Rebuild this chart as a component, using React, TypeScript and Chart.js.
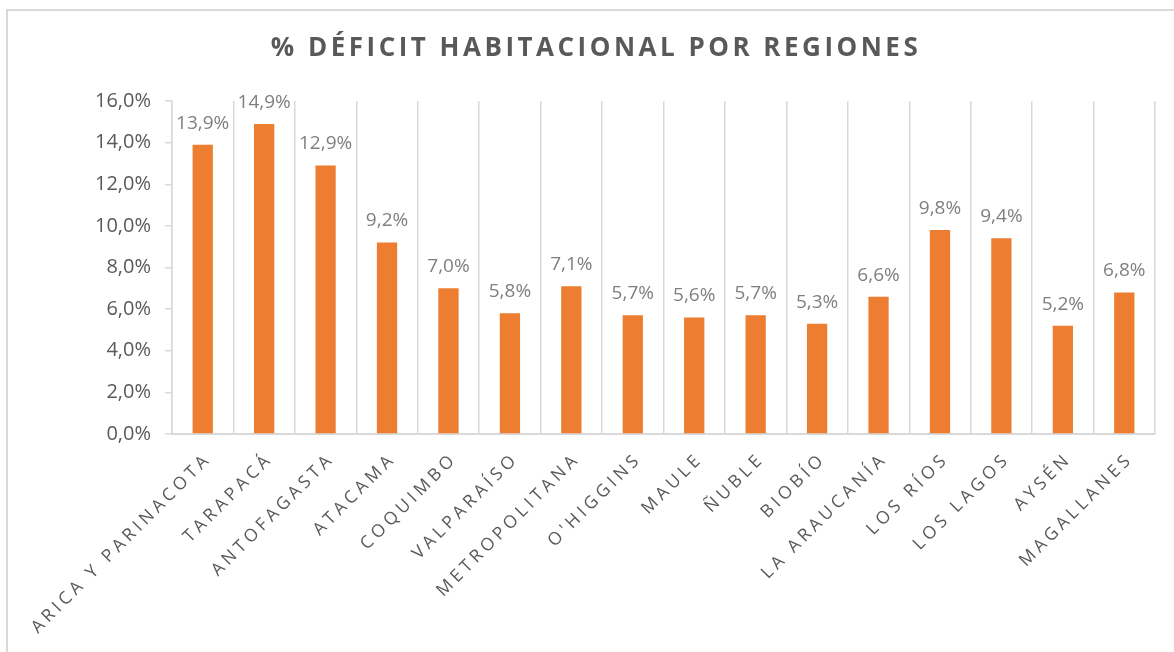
import React, { useEffect, useRef } from "react";
import { Chart, registerables } from "chart.js";

Chart.register(...registerables);

const TITLE = "% DÉFICIT HABITACIONAL POR REGIONES";
const categories = [
  "ARICA Y PARINACOTA",
  "TARAPACÁ",
  "ANTOFAGASTA",
  "ATACAMA",
  "COQUIMBO",
  "VALPARAÍSO",
  "METROPOLITANA",
  "O'HIGGINS",
  "MAULE",
  "ÑUBLE",
  "BIOBÍO",
  "LA ARAUCANÍA",
  "LOS RÍOS",
  "LOS LAGOS",
  "AYSÉN",
  "MAGALLANES",
];
const deficit = [13.9, 14.9, 12.9, 9.2, 7.0, 5.8, 7.1, 5.7, 5.6, 5.7, 5.3, 6.6, 9.8, 9.4, 5.2, 6.8];
const yMin = 0;
const yMax = 16;
const yStep = 2;

const fmt = (v: number) => v.toFixed(1).replace(".", ",") + "%";

const FONT = "'Open Sans', 'DejaVu Sans', sans-serif";

const overlayPlugin = {
  id: "overlay",
  afterDraw(chart: any) {
    const ctx = chart.ctx as CanvasRenderingContext2D;
    const area = chart.chartArea;
    // title
    ctx.save();
    (ctx as any).letterSpacing = "3.5px";
    ctx.font = `bold 26px ${FONT}`;
    ctx.fillStyle = "#595959";
    ctx.textAlign = "center";
    ctx.textBaseline = "middle";
    ctx.fillText(TITLE, 596, 49);
    ctx.restore();

    // data labels
    const meta = chart.getDatasetMeta(0);
    ctx.save();
    ctx.font = `19px ${FONT}`;
    ctx.fillStyle = "#7f7f7f";
    ctx.textAlign = "center";
    ctx.textBaseline = "bottom";
    meta.data.forEach((bar: any, i: number) => {
      ctx.fillText(fmt(deficit[i]), bar.x, bar.y - 12);
    });
    ctx.restore();

    // x labels
    const xs = chart.scales.x;
    ctx.save();
    (ctx as any).letterSpacing = "4px";
    ctx.font = `17.5px ${FONT}`;
    ctx.fillStyle = "#595959";
    ctx.textAlign = "right";
    ctx.textBaseline = "middle";
    categories.forEach((c, i) => {
      const x = xs.getPixelForValue(i);
      ctx.save();
      ctx.translate(x + 6, area.bottom + 22);
      ctx.rotate(-Math.PI / 4);
      ctx.fillText(c, 0, 0);
      ctx.restore();
    });
    ctx.restore();
  },
};

export default function App() {
  const ref = useRef<HTMLCanvasElement | null>(null);
  useEffect(() => {
    if (!ref.current) return;
    const chart = new Chart(ref.current, {
      type: "bar",
      data: {
        labels: categories,
        datasets: [
          {
            data: deficit,
            backgroundColor: "#ED7D31",
            borderWidth: 0,
            categoryPercentage: 1,
            barPercentage: 0.33,
          },
        ],
      },
      options: {
        animation: false,
        responsive: false,
        maintainAspectRatio: false,
        layout: { padding: { top: 101, right: 19, left: 0, bottom: 0 } },
        plugins: {
          legend: { display: false },
          title: { display: false },
          tooltip: { enabled: false },
        },
        scales: {
          x: {
            ticks: { display: false },
            grid: {
              offset: true,
              color: "#d9d9d9",
              lineWidth: 1.5,
              drawTicks: false,
              tickLength: 0,
            },
            border: { display: true, color: "#d9d9d9", width: 2 },
            afterFit(scale: any) {
              scale.height = 652 - 434;
            },
          },
          y: {
            min: yMin,
            max: yMax,
            ticks: {
              stepSize: yStep,
              color: "#595959",
              font: { family: FONT, size: 20 },
              padding: 14,
              callback: (v: any) => fmt(Number(v)),
            },
            grid: {
              drawOnChartArea: false,
              drawTicks: true,
              tickLength: 7,
              color: "#d9d9d9",
              lineWidth: 1.5,
            },
            border: { display: true, color: "#d9d9d9", width: 1.5 },
            afterFit(scale: any) {
              scale.width = 172;
            },
          },
        },
      },
      plugins: [overlayPlugin],
    });
    return () => chart.destroy();
  }, []);

  return (
    <div style={{ position: "absolute", left: 0, top: 0, width: 1174, height: 652, background: "#fff", overflow: "hidden" }}>
      <div
        style={{
          position: "absolute",
          left: 6,
          top: 9,
          width: 1200,
          height: 700,
          border: "2px solid #d9d9d9",
          boxSizing: "border-box",
        }}
      />
      <canvas ref={ref} width={1174} height={652} style={{ position: "absolute", left: 0, top: 0, width: 1174, height: 652 }} />
    </div>
  );
}
